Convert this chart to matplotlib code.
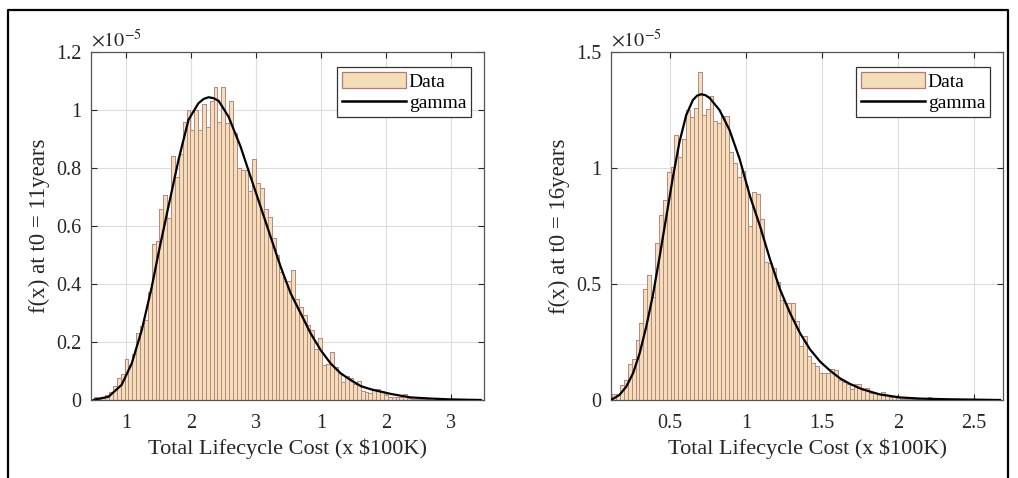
import matplotlib
matplotlib.use("Agg")
import matplotlib.pyplot as plt
import numpy as np
from matplotlib.lines import Line2D
from matplotlib.patches import Patch

plt.rcParams["font.family"] = ["Liberation Serif", "DejaVu Serif"]
plt.rcParams["mathtext.fontset"] = "stix"

# %%
# Histogram heights (units of 1e-5), 100 equal bins over the data range.
left_range = (0.5, 6.45)
left_heights = [
    0.010, 0.004, 0.008, 0.017, 0.029, 0.048, 0.077, 0.090, 0.143, 0.120,
    0.160, 0.232, 0.256, 0.276, 0.372, 0.537, 0.550, 0.660, 0.707, 0.626,
    0.840, 0.770, 0.850, 0.960, 1.000, 0.930, 1.000, 0.930, 1.020, 0.940,
    1.030, 1.080, 0.960, 1.080, 0.956, 1.030, 0.920, 0.800, 0.793, 0.793,
    0.720, 0.830, 0.747, 0.730, 0.660, 0.630, 0.560, 0.500, 0.440, 0.410,
    0.410, 0.450, 0.350, 0.320, 0.293, 0.260, 0.240, 0.175, 0.213, 0.120,
    0.124, 0.167, 0.115, 0.092, 0.063, 0.083, 0.075, 0.055, 0.066, 0.032,
    0.029, 0.025, 0.034, 0.037, 0.030, 0.017, 0.011, 0.009, 0.011, 0.009,
    0.022, 0.008, 0.005, 0.004, 0.003, 0.002, 0.002, 0.001, 0.001, 0.001,
    0.001, 0.0, 0.001, 0.0, 0.0, 0.001, 0.0, 0.0, 0.0, 0.001,
]
right_range = (0.118, 2.68)
right_heights = [
    0.024, 0.024, 0.065, 0.086, 0.155, 0.175, 0.260, 0.330, 0.477, 0.539,
    0.445, 0.675, 0.797, 0.860, 0.984, 1.006, 1.142, 1.049, 1.125, 1.250,
    1.218, 1.257, 1.415, 1.228, 1.253, 1.310, 1.204, 1.195, 1.224, 1.224,
    1.070, 1.020, 0.960, 0.985, 0.922, 0.750, 0.895, 0.886, 0.780, 0.596,
    0.589, 0.567, 0.510, 0.430, 0.420, 0.420, 0.420, 0.340, 0.233, 0.276,
    0.190, 0.158, 0.147, 0.118, 0.118, 0.118, 0.132, 0.130, 0.086, 0.079,
    0.069, 0.046, 0.069, 0.069, 0.043, 0.050, 0.029, 0.029, 0.026, 0.033,
    0.022, 0.014, 0.014, 0.007, 0.006, 0.005, 0.004, 0.003, 0.003, 0.002,
    0.002, 0.011, 0.002, 0.001, 0.001, 0.003, 0.003, 0.002, 0.003, 0.002,
    0.003, 0.001, 0.001, 0.0, 0.001, 0.0, 0.0, 0.0, 0.0, 0.001,
]

# Fitted gamma curves (x, f(x) in 1e-5).
left_curve_x = [0.50, 0.523, 0.728, 0.93, 1.086, 1.24, 1.394, 1.497, 1.65,
                1.805, 1.958, 2.11, 2.19, 2.266, 2.34, 2.42, 2.574, 2.758,
                2.912, 3.066, 3.22, 3.374, 3.528, 3.68, 3.835, 3.99, 4.143,
                4.297, 4.45, 4.605, 4.76, 4.91, 5.066, 5.37, 5.68, 5.99, 6.45]
left_curve_y = [0.0, 0.002, 0.011, 0.052, 0.126, 0.241, 0.39, 0.506, 0.667,
                0.828, 0.966, 1.023, 1.038, 1.044, 1.041, 1.032, 0.977, 0.874,
                0.77, 0.667, 0.563, 0.46, 0.368, 0.30, 0.23, 0.172, 0.126,
                0.092, 0.069, 0.048, 0.037, 0.029, 0.021, 0.009, 0.005, 0.002,
                0.0]
right_curve_x = [0.118, 0.166, 0.21, 0.255, 0.298, 0.342, 0.386, 0.43, 0.474,
                 0.518, 0.561, 0.605, 0.649, 0.677, 0.704, 0.731, 0.759, 0.824,
                 0.89, 0.956, 1.026, 1.092, 1.158, 1.224, 1.289, 1.355, 1.42,
                 1.487, 1.553, 1.618, 1.684, 1.75, 1.816, 1.88, 2.013, 2.145,
                 2.34, 2.67]
right_curve_y = [0.003, 0.022, 0.057, 0.115, 0.20, 0.316, 0.453, 0.618, 0.79,
                 0.963, 1.113, 1.228, 1.293, 1.312, 1.318, 1.314, 1.302, 1.25,
                 1.164, 1.04, 0.876, 0.747, 0.603, 0.474, 0.374, 0.287, 0.218,
                 0.165, 0.126, 0.093, 0.069, 0.05, 0.036, 0.024, 0.011, 0.006,
                 0.003, 0.0]

left_xticks = [1, 2, 3, 4, 5, 6]
left_xticklabels = ["1", "2", "3", "1", "2", "3"]
left_yticks = [0, 0.2, 0.4, 0.6, 0.8, 1.0, 1.2]
left_yticklabels = ["0", "0.2", "0.4", "0.6", "0.8", "1", "1.2"]
right_xticks = [0.5, 1.0, 1.5, 2.0, 2.5]
right_xticklabels = ["0.5", "1", "1.5", "2", "2.5"]
right_yticks = [0, 0.5, 1.0, 1.5]
right_yticklabels = ["0", "0.5", "1", "1.5"]

BAR_FACE = "#F4DEB8"
BAR_EDGE = "#B98A84"
INK = "#262626"

fig = plt.figure(figsize=(10.18, 4.78), dpi=100)
W, H = 1018, 478


def panel(rect, rng, heights, cx, cy, xlim, ylim, xt, xtl, yt, ytl, ylabel):
    ax = fig.add_axes(rect)
    edges = np.linspace(rng[0], rng[1], len(heights) + 1)
    ax.bar(edges[:-1], heights, width=np.diff(edges), align="edge",
           color=BAR_FACE, edgecolor=BAR_EDGE, linewidth=0.7, zorder=2,
           antialiased=False)
    ax.plot(cx, cy, color="black", lw=1.6, zorder=3)
    ax.set_xlim(*xlim)
    ax.set_ylim(*ylim)
    ax.set_xticks(xt, xtl)
    ax.set_yticks(yt, ytl)
    ax.grid(True, color="#dcdcdc", lw=0.8, zorder=0)
    ax.set_axisbelow(True)
    ax.tick_params(axis="both", direction="in", top=True, right=True,
                   length=4, labelsize=14.5, colors=INK)
    ax.tick_params(axis="x", pad=10)
    ax.tick_params(axis="y", pad=7)
    for s in ax.spines.values():
        s.set_color("#555555")
        s.set_linewidth(0.9)
    ax.set_xlabel("Total Lifecycle Cost (x $100K)", fontsize=16, color=INK,
                  labelpad=4)
    ax.set_ylabel(ylabel, fontsize=16.5, color=INK, labelpad=4)
    ax.text(0.0, 1.0, r"$\times10^{-5}$", transform=ax.transAxes,
            fontsize=14.5, color=INK, ha="left", va="bottom")
    handles = [Patch(facecolor=BAR_FACE, edgecolor="#B27A78", lw=0.9),
               Line2D([], [], color="black", lw=1.8)]
    leg = ax.legend(handles, ["Data", "gamma"], loc="upper right",
                    bbox_to_anchor=(0.967, 0.957), borderaxespad=0,
                    fancybox=False, fontsize=14, handlelength=3.3,
                    handletextpad=0.15, borderpad=0.25, labelspacing=0.15,
                    handleheight=0.9, framealpha=1)
    leg.get_frame().set_edgecolor("#333333")
    leg.get_frame().set_linewidth(0.9)
    return ax


panel([91 / W, 78 / H, 393 / W, 348 / H], left_range, left_heights,
      left_curve_x, left_curve_y, (0.46, 6.5), (0, 1.2),
      left_xticks, left_xticklabels, left_yticks, left_yticklabels,
      "f(x) at t0 = 11years")
panel([611 / W, 78 / H, 392 / W, 348 / H], right_range, right_heights,
      right_curve_x, right_curve_y, (0.11, 2.69), (0, 1.5),
      right_xticks, right_xticklabels, right_yticks, right_yticklabels,
      "f(x) at t0 = 16years")

# outer frame (left, top, right edges)
fig.add_artist(Line2D([8 / W, 8 / W, 1008 / W, 1008 / W],
                      [0, 1 - 10 / H, 1 - 10 / H, 0],
                      transform=fig.transFigure, color="black", lw=1.6))

fig.savefig("out.png", dpi=100)
